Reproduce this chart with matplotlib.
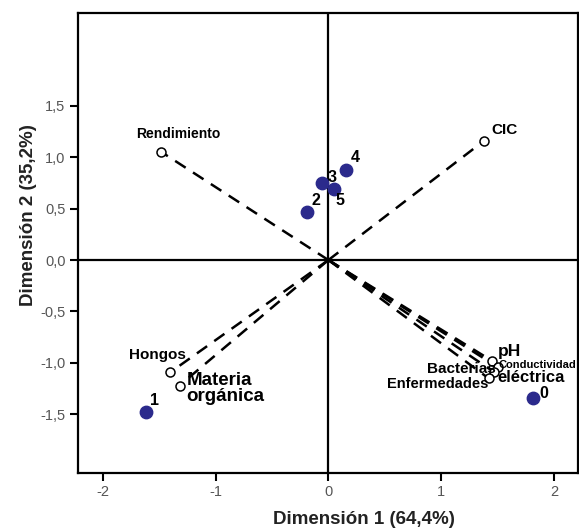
import matplotlib.pyplot as plt

plt.rcParams['font.family'] = ['Liberation Sans', 'DejaVu Sans']

# variable coordinates (open circles, joined to origin)
var_names = ['Rendimiento', 'CIC', 'Hongos', 'Materia\norgánica', 'pH',
             'Conductividad', 'Bacterias', 'Enfermedades']
var_x = [-1.48, 1.38, -1.40, -1.32, 1.45, 1.50, 1.47, 1.42]
var_y = [1.05, 1.16, -1.09, -1.22, -0.98, -1.04, -1.09, -1.15]

# case coordinates (filled points)
case_names = ['0', '1', '2', '3', '4', '5']
case_x = [1.81, -1.62, -0.19, -0.06, 0.16, 0.05]
case_y = [-1.34, -1.48, 0.47, 0.75, 0.88, 0.69]

fig = plt.figure(figsize=(5.79, 5.29), dpi=100)
ax = fig.add_axes([0.1347, 0.106, 0.863, 0.869])

ax.axhline(0, color='black', lw=1.6, zorder=1)
ax.axvline(0, color='black', lw=1.6, zorder=1)

for x, y in zip(var_x, var_y):
    ax.plot([0, x], [0, y], color='black', ls=(0, (5, 3.5)), lw=1.8, zorder=2)

ax.scatter(var_x, var_y, s=42, facecolor='white', edgecolor='black', lw=1.1, zorder=3)
ax.scatter(case_x, case_y, s=80, color='#2b2a8c', zorder=3)

# variable labels: dx, dy (points), ha, va, size
var_lab = {
    'Rendimiento': (12, 8, 'center', 'bottom', 10),
    'CIC': (5, 3, 'left', 'bottom', 11),
    'Hongos': (11, 12, 'right', 'center', 11),
    'Materia\norgánica': (5, -2, 'left', 'center', 13.5),
    'pH': (4, 7, 'left', 'center', 12.5),
    'Conductividad': (1, 1.5, 'left', 'center', 8),
    'Bacterias': (1, 2, 'right', 'center', 11),
    'Enfermedades': (0, -4, 'right', 'center', 10.5),
}
for name, x, y in zip(var_names, var_x, var_y):
    dx, dy, ha, va, sz = var_lab[name]
    ax.annotate(name, (x, y), xytext=(dx, dy), textcoords='offset points',
                ha=ha, va=va, fontsize=sz, fontweight='bold', linespacing=0.95)
# second line of "Conductividad eléctrica"
ax.annotate('eléctrica', (var_x[5], var_y[5]), xytext=(0, -7.5), textcoords='offset points',
            ha='left', va='center', fontsize=12, fontweight='bold')

case_off = {'0': (8, 3, 'center', 'center'), '1': (3, 3, 'left', 'bottom'),
            '2': (3, 3, 'left', 'bottom'), '3': (4, 4, 'left', 'center'),
            '4': (3, 3, 'left', 'bottom'), '5': (1, -3, 'left', 'top')}
for name, x, y in zip(case_names, case_x, case_y):
    dx, dy, ha, va = case_off[name]
    ax.annotate(name, (x, y), xytext=(dx, dy), textcoords='offset points',
                ha=ha, va=va, fontsize=11.5, fontweight='bold')

ax.set_xlim(-2.22, 2.21)
ax.set_ylim(-2.07, 2.40)
ax.set_xticks([-2, -1, 0, 1, 2])
ax.set_xticklabels(['-2', '-1', '0', '1', '2'])
ax.set_yticks([-1.5, -1.0, -0.5, 0.0, 0.5, 1.0, 1.5])
ax.set_yticklabels(['-1,5', '-1,0', '-0,5', '0,0', '0,5', '1,0', '1,5'])
ax.tick_params(direction='out', length=6, width=1.5, labelsize=10.5,
               labelcolor='#555555', pad=3)

for sp in ax.spines.values():
    sp.set_linewidth(1.6)

ax.set_xlabel('Dimensión 1 (64,4%)', fontsize=13.5, fontweight='bold', color='#222222')
ax.set_ylabel('Dimensión 2 (35,2%)', fontsize=13.5, fontweight='bold', color='#222222')
ax.xaxis.set_label_coords(0.572, -0.082)
ax.yaxis.set_label_coords(-0.082, 0.56)

fig.savefig('out.png', dpi=100)
